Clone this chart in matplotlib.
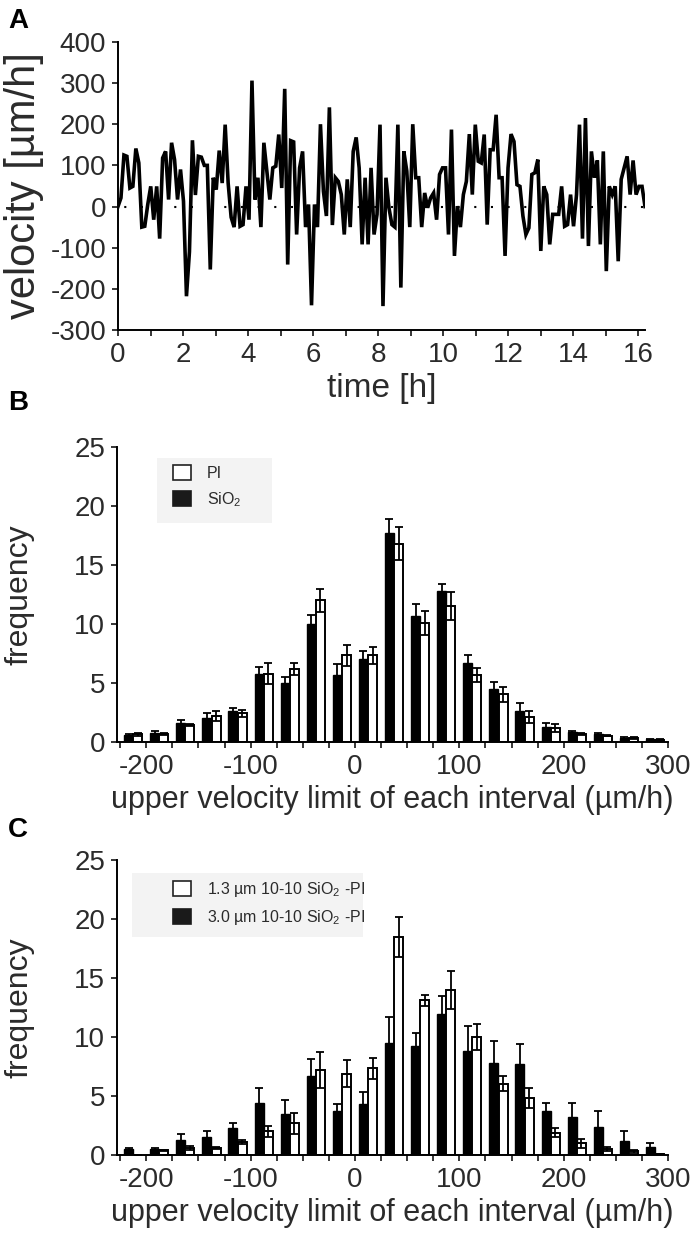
import numpy as np
import matplotlib
matplotlib.use('Agg')
import matplotlib.pyplot as plt
from matplotlib.patches import Patch, Rectangle

plt.rcParams['font.family'] = ['Liberation Sans', 'DejaVu Sans']
plt.rcParams['mathtext.default'] = 'regular'
plt.rcParams['axes.unicode_minus'] = False

# ---- panel A: velocity trace of one cell, sampled every ~5.5 min
velocity = [0, 21, 125, 122, 45, 49, 141, 106, -50, -48,
            5, 49, -32, 49, -78, 118, 134, 17, 155, 114,
            17, 90, 13, -218, -110, 161, 28, 122, 120, 100,
            100, -153, 70, 41, 136, 57, 199, 57, -26, -50,
            49, -48, -44, 49, -32, 306, 17, 70, -50, 155,
            86, 17, 94, 98, 175, 45, 286, -141, 160, 157,
            -68, 94, 134, -50, 5, -240, 5, -50, 200, 37,
            -23, 241, -45, 70, 61, 29, -68, 66, -50, 134,
            168, 94, -92, 70, -92, 94, -68,
            -19, 199, -242, 70, -3, -44, -50, 199, -197, 134,
            86, -50, 200, 70, 70, -50, 33, -3, 21, 33,
            -32, 78, 94, 94, -68, 187, -120, 1, -50, 29,
            61, 176, 29, 199, 110, 106, 175, -44, 138, 138,
            223, 70, 70, -120, 94, 176, 158, 53, 49, -23,
            -68, -52, 78, 82, 114, -108, 49, 29, -92, -19,
            -19, -19, 49, -48, -44, 29, -48, 29, 199, -78,
            215, -96, 134, 70, 112, -92, 134, -157, 49, 29,
            49, -133, 66, 94, 122, 29, 112, 29, 49, 49, 0]
sample_step_h = 16.2 / 177
time_h = np.arange(len(velocity)) * sample_step_h

# ---- panels B and C: histograms, upper limit of each 25 um/h interval
upper_limit = [-200, -175, -150, -125, -100, -75, -50, -25, 0, 25, 50,
               75, 100, 125, 150, 175, 200, 225, 250, 275, 300]

sio2_B = [0.6, 0.76, 1.6, 2.0, 2.6, 5.8, 5.0, 10.0, 5.7, 7.0, 17.7,
          10.7, 12.8, 6.7, 4.5, 2.6, 1.3, 0.85, 0.7, 0.35, 0.25]
sio2_B_err = [0.1, 0.17, 0.3, 0.5, 0.3, 0.6, 0.5, 0.8, 0.9, 0.7, 1.2,
              1.0, 0.6, 0.7, 0.6, 0.7, 0.35, 0.1, 0.1, 0.05, 0.05]
pi_B = [0.65, 0.7, 1.45, 2.2, 2.45, 5.8, 6.2, 12.0, 7.35, 7.35, 16.8,
        10.1, 11.55, 5.7, 4.05, 2.15, 1.2, 0.7, 0.55, 0.35, 0.2]
pi_B_err = [0.1, 0.1, 0.1, 0.4, 0.3, 0.9, 0.5, 1.0, 0.9, 0.7, 1.4,
            1.0, 1.2, 0.6, 0.65, 0.5, 0.35, 0.1, 0.05, 0.05, 0.05]

big_C = [0.5, 0.5, 1.3, 1.5, 2.3, 4.4, 3.5, 6.7, 3.7, 4.3, 9.5,
         9.25, 11.95, 8.8, 7.8, 7.75, 3.7, 3.2, 2.4, 1.2, 0.7]
big_C_err = [0.1, 0.1, 0.5, 0.5, 0.4, 1.3, 1.2, 1.4, 0.6, 1.0, 2.2,
             1.1, 1.55, 2.1, 1.9, 1.7, 0.7, 1.2, 1.3, 0.8, 0.3]
small_C = [0.0, 0.4, 0.6, 0.6, 1.1, 2.0, 2.7, 7.2, 6.9, 7.35, 18.5,
           13.1, 14.0, 10.0, 6.05, 4.85, 1.9, 1.0, 0.5, 0.3, 0.05]
small_C_err = [0.0, 0.05, 0.15, 0.1, 0.2, 0.5, 0.9, 1.5, 1.15, 0.9, 1.7,
               0.5, 1.6, 1.1, 0.65, 0.85, 0.4, 0.4, 0.2, 0.1, 0.0]

txt_col = '#2b2b2b'
tick_fs = 20
label_fs = 22

fig = plt.figure(figsize=(6.94, 12.48), dpi=100)


def style_axes(ax):
    for s in ['top', 'right']:
        ax.spines[s].set_visible(False)
    for s in ['left', 'bottom']:
        ax.spines[s].set_linewidth(1.4)
    ax.tick_params(which='both', direction='out', length=4.5, width=1.1,
                   labelsize=tick_fs, labelcolor=txt_col, pad=4)


# ---------------- A
axA = fig.add_axes([0.170, 0.7356, 0.7594, 0.2308])
axA.plot(time_h, velocity, color='black', lw=2.6, solid_joinstyle='miter')
axA.plot([0, time_h[-1]], [0, 0], color='black', lw=1.5, ls=(5, (1, 7)))
axA.set_xlim(0, 16.2)
axA.set_ylim(-300, 400)
axA.set_xticks(np.arange(0, 17, 2))
axA.set_xticks(np.arange(0, 17, 1), minor=True)
axA.set_yticks(np.arange(-300, 401, 100))
style_axes(axA)
axA.set_xlabel('time [h]', fontsize=24, color=txt_col)
axA.set_ylabel('velocity [µm/h]', fontsize=30, color=txt_col)
axA.yaxis.set_label_coords(-0.141, 0.5)


def hist_panel(ax, black_vals, black_err, white_vals, white_err, labels, box):
    centers = np.array(upper_limit) - 12.5
    w = 8.6
    ax.bar(centers - 4.4, black_vals, width=w, color='black', edgecolor='black', lw=1.0)
    ax.bar(centers + 4.4, white_vals, width=w, color='white', edgecolor='black', lw=1.4)
    ax.errorbar(centers - 4.4, black_vals, yerr=black_err, fmt='none', ecolor='black',
                elinewidth=1.3, capsize=3, capthick=1.3)
    ax.errorbar(centers + 4.4, white_vals, yerr=white_err, fmt='none', ecolor='black',
                elinewidth=1.3, capsize=3, capthick=1.3)
    ax.set_xlim(-228, 300)
    ax.set_ylim(0, 25)
    ax.set_xticks(np.arange(-200, 301, 100))
    ax.set_xticks(np.arange(-225, 301, 25), minor=True)
    ax.set_yticks(np.arange(0, 26, 5))
    style_axes(ax)
    ax.set_xlabel('upper velocity limit of each interval (µm/h)', fontsize=label_fs, color=txt_col)
    ax.set_ylabel('frequency', fontsize=label_fs + 1, color=txt_col)
    ax.yaxis.set_label_coords(-0.15, 0.5)
    # light grey box behind the legend
    ax.add_patch(Rectangle((box[0], box[1]), box[2] - box[0], box[3] - box[1],
                           transform=ax.transAxes, facecolor='#f3f3f3',
                           edgecolor='none', zorder=0))
    handles = [Patch(facecolor='white', edgecolor='#222222', lw=1.2),
               Patch(facecolor='#1a1a1a', edgecolor='#1a1a1a', lw=1.2)]
    ax.legend(handles, labels, loc='upper left', bbox_to_anchor=(0.1016, box[3] - 0.024),
              frameon=False, fontsize=11.5, handlelength=1.1, handleheight=1.1,
              handletextpad=1.0, labelspacing=0.55, borderpad=0, borderaxespad=0,
              labelcolor=txt_col)


# ---------------- B
axB = fig.add_axes([0.1686, 0.4054, 0.794, 0.2364])
hist_panel(axB, sio2_B, sio2_B_err, pi_B, pi_B_err,
           ['PI', 'SiO$_2$'], (0.0726, 0.742, 0.281, 0.963))

# ---------------- C
axC = fig.add_axes([0.1686, 0.0745, 0.794, 0.2364])
hist_panel(axC, big_C, big_C_err, small_C, small_C_err,
           ['1.3 µm 10-10 SiO$_2$ -PI', '3.0 µm 10-10 SiO$_2$ -PI'],
           (0.027, 0.739, 0.446, 0.956))

fig.text(0.012, 1 - 21 / 1248, 'A', fontsize=20, fontweight='bold', va='center')
fig.text(0.012, 1 - 403 / 1248, 'B', fontsize=20, fontweight='bold', va='center')
fig.text(0.012, 1 - 830 / 1248, 'C', fontsize=20, fontweight='bold', va='center')

fig.savefig('out.png', dpi=100)
